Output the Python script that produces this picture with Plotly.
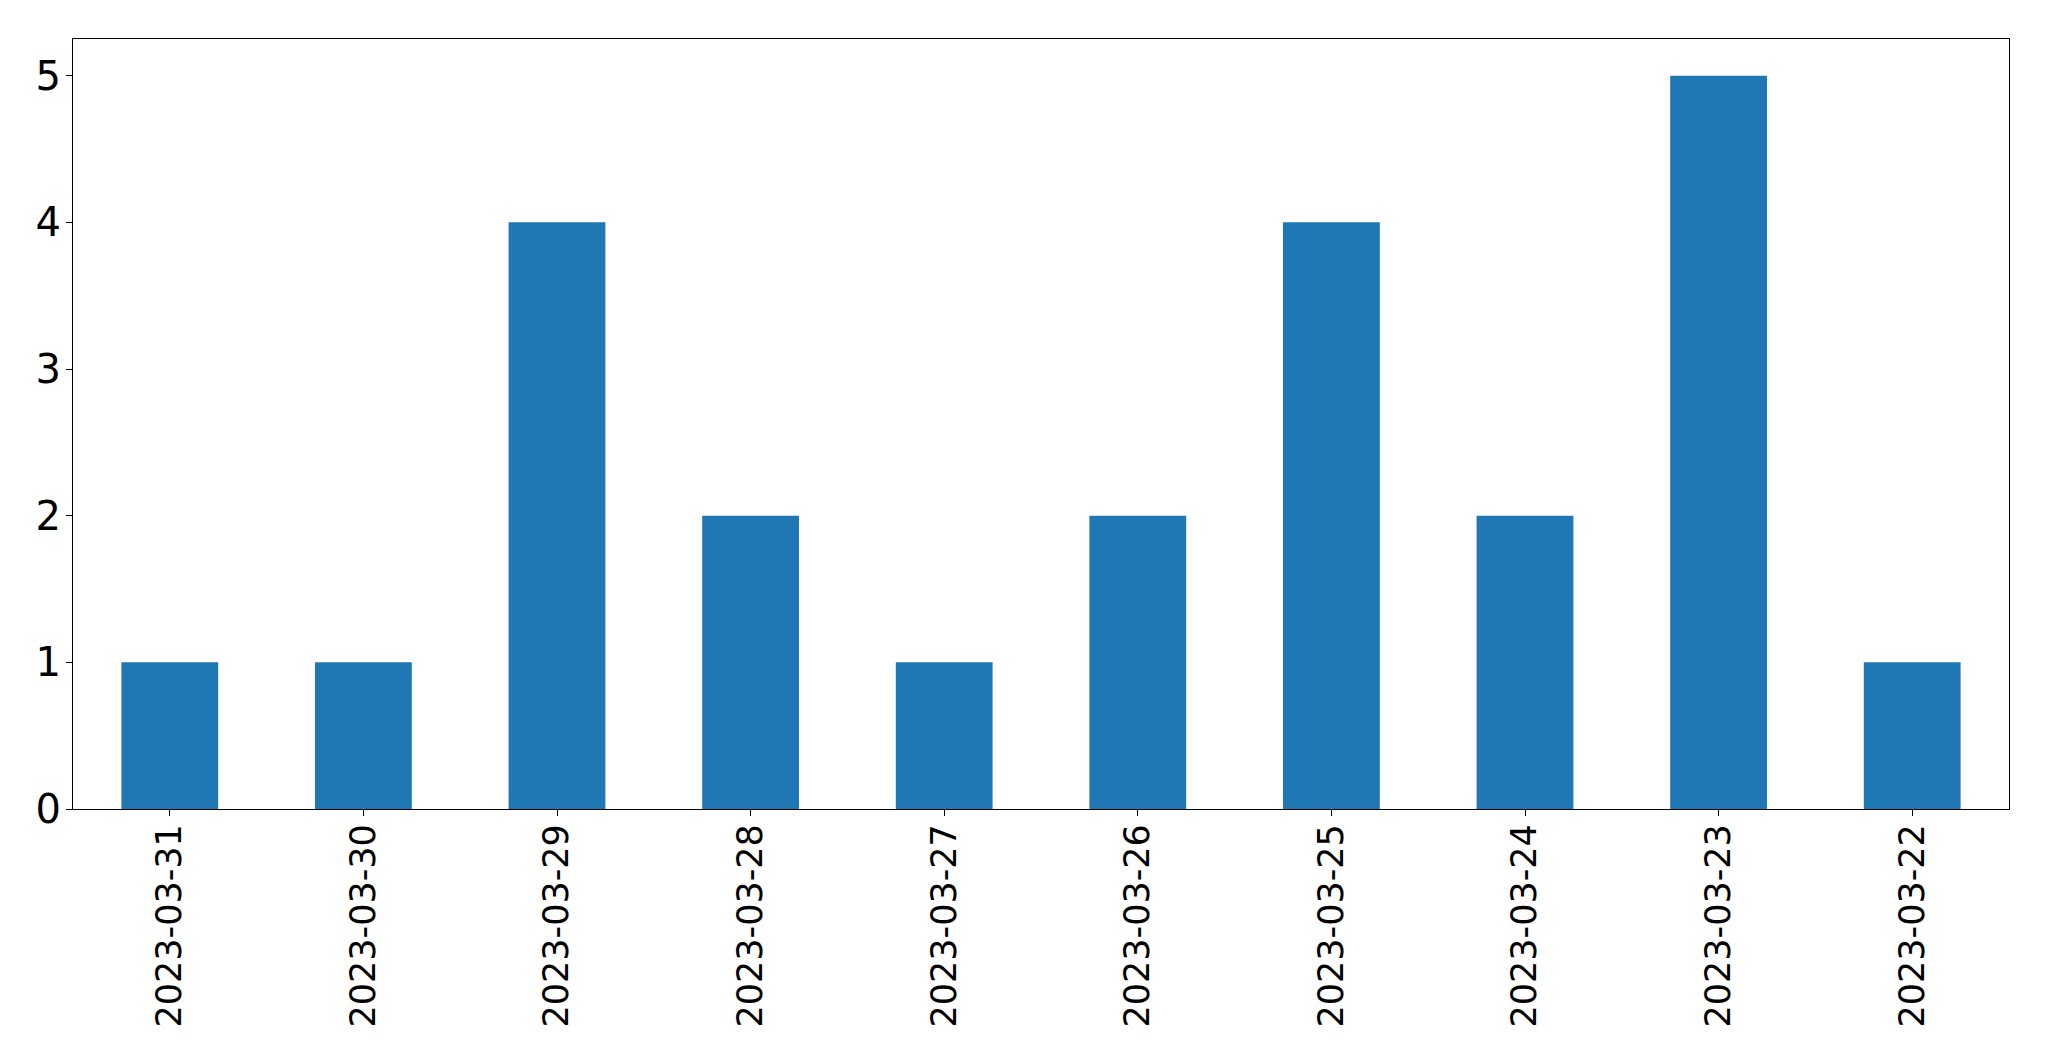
import plotly.graph_objects as go

dates = ["2023-03-31", "2023-03-30", "2023-03-29", "2023-03-28", "2023-03-27",
         "2023-03-26", "2023-03-25", "2023-03-24", "2023-03-23", "2023-03-22"]
counts = [1, 1, 4, 2, 1, 2, 4, 2, 5, 1]
y_ticks = [0, 1, 2, 3, 4, 5]

fig = go.Figure(go.Bar(x=dates, y=counts, marker=dict(color="#1f77b4", line=dict(width=0)), width=0.5))

xfont = dict(family="DejaVu Sans", size=35, color="black")
yfont = dict(family="DejaVu Sans", size=40, color="black")
fig.update_layout(
    width=2049, height=1061,
    margin=dict(l=73, r=40, t=39, b=252),
    plot_bgcolor="white", paper_bgcolor="white",
    showlegend=False,
    bargap=0.5,
)
fig.update_xaxes(type="category", range=[-0.5, 9.5], tickangle=-90, tickfont=xfont,
                 showline=True, linecolor="black", linewidth=1.3, mirror=True,
                 ticks="outside", ticklen=6, tickwidth=1.3, tickcolor="black",
                 showgrid=False, ticklabelstandoff=-6, automargin=False)
fig.update_yaxes(range=[0, 5.25], tickvals=y_ticks, tickfont=yfont,
                 showline=True, linecolor="black", linewidth=1.3, mirror=True,
                 ticks="outside", ticklen=6, tickwidth=1.3, tickcolor="black",
                 showgrid=False, zeroline=False, ticklabelstandoff=-3, automargin=False)

fig.write_html("out.html")
